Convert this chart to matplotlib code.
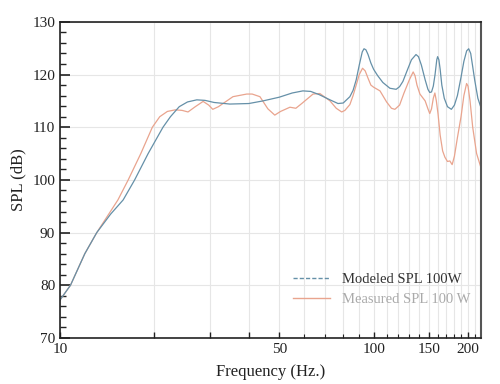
import matplotlib.pyplot as plt
from matplotlib.lines import Line2D
from matplotlib.ticker import FixedLocator, FixedFormatter, MultipleLocator, NullFormatter

# Modeled SPL (blue)
mod_freq = [10, 10.8, 12, 13.1, 14.5, 15.9, 17.3, 19.1, 21.3, 22.5, 24, 25.5, 27.3, 29, 31,
            34.8, 40, 44.4, 50, 55, 59.5, 63, 67, 72.6, 77, 80, 84, 86, 88, 90, 92, 93.2, 94.5,
            96, 98, 100, 103, 107, 112.7, 118, 121, 124, 128, 132, 136.5, 139, 142, 146, 149,
            151, 153, 155, 157, 159, 160, 161.5, 163, 165, 168, 172, 177, 181, 185, 190, 194,
            198, 201, 204, 207, 210, 215, 220]
mod_spl = [77.2, 80, 86, 90, 93.5, 96.2, 100, 105, 110, 112, 113.9, 114.8, 115.2, 115.1, 114.7,
           114.4, 114.5, 115, 115.7, 116.5, 116.9, 116.8, 116.2, 115.2, 114.5, 114.6, 115.8, 117, 119, 121.8, 124.3, 124.9, 124.7,
           123.8, 122.2, 121, 119.8, 118.5, 117.4, 117.2, 117.7, 118.7, 120.8, 122.8, 123.8, 123.4, 121.8, 119, 117.2,
           116.6, 116.7, 117.8, 120, 122.8, 123.4, 122.8, 121, 118, 115.5, 113.9, 113.4, 114.2, 116, 119.5, 122.5,
           124.5, 124.9, 124, 121.5, 119, 115.5, 113.7]

# Measured SPL (salmon)
meas_freq = [10, 10.8, 12, 13.1, 14.3, 15.3, 16.5, 18.1, 19.7, 20.8, 22, 23.3, 24.5, 25.6, 27,
             28.6, 29.8, 30.7, 32, 33.1, 35.6, 39.4, 41, 43.4, 46, 48.4, 50.5, 54.1, 56.5, 59,
             64.1, 67.4, 72.6, 76, 79.1, 81, 84, 86, 88, 90, 92.2, 94, 96, 98, 100, 104.8, 110,
             114, 116.9, 121, 125, 130, 133.7, 135.5, 137.5, 140.5, 146, 149, 151, 153, 155,
             156.8, 158.5, 160.5, 163, 166, 168.8, 172, 175, 178, 181, 185, 190, 194, 197.9,
             200, 203, 207, 213, 220]
meas_spl = [77.2, 80, 86, 90, 93.5, 96.2, 100, 105, 110, 112, 113, 113.3, 113.2, 112.9, 113.9,
            114.9, 114.2, 113.4, 113.9, 114.5, 115.8, 116.3, 116.3, 115.8, 113.5, 112.3, 113, 113.8, 113.6, 114.5,
            116.3, 116.4, 115, 113.6, 112.9, 113.2, 114.3, 116, 118, 120, 121.2, 120.7, 119.3, 118, 117.6, 116.9, 114.8,
            113.6, 113.4, 114.2, 116.5, 119, 120.5, 119.8, 118, 116.3, 115, 113.5, 112.6, 113.5, 115.5,
            116.5, 115, 112.5, 108.5, 105.5, 104.3, 103.5, 103.6, 102.9, 104.5, 108, 112, 116, 118.3,
            117.8, 115, 110, 105, 102.3]

x_major = [10, 20, 30, 40, 50, 100, 150, 200]
x_labels = ['10', '', '', '', '50', '100', '150', '200']
x_minor = [60, 70, 80, 90, 110, 120, 130, 140, 160, 170, 180, 190, 210]

plt.rcParams['font.family'] = ['Liberation Serif', 'DejaVu Serif']

fig = plt.figure(figsize=(5, 3.84), dpi=100)
ax = fig.add_axes([0.12, 0.12, 0.842, 0.823])

blue = '#6590a8'
salmon = '#e9a48e'
ax.plot(meas_freq, meas_spl, color=salmon, lw=0.9)
ax.plot(mod_freq, mod_spl, color=blue, lw=0.9)

ax.set_xscale('log')
ax.set_xlim(10, 220)
ax.set_ylim(70, 130)

ax.xaxis.set_major_locator(FixedLocator(x_major))
ax.xaxis.set_major_formatter(FixedFormatter(x_labels))
ax.xaxis.set_minor_locator(FixedLocator(x_minor))
ax.xaxis.set_minor_formatter(NullFormatter())
ax.yaxis.set_major_locator(MultipleLocator(10))
ax.yaxis.set_minor_locator(MultipleLocator(2))

ax.tick_params(which='both', direction='in', top=False, right=False, labelsize=11, colors='#222222')
ax.tick_params(axis='y', which='major', length=7, width=1.2)
ax.tick_params(axis='y', which='minor', length=4, width=1.0)
ax.tick_params(axis='x', which='major', length=4, width=1.0)
ax.tick_params(axis='x', which='minor', length=3, width=0.8)

ax.grid(True, which='major', axis='y', color='#e6e6e6', lw=0.8)
ax.grid(True, which='both', axis='x', color='#e6e6e6', lw=0.8)
ax.set_axisbelow(True)

for side in ['left', 'bottom', 'top']:
    ax.spines[side].set_color('#222222')
    ax.spines[side].set_linewidth(1.2)
ax.spines['right'].set_color('#555555')
ax.spines['right'].set_linewidth(1.5)

ax.set_xlabel('Frequency (Hz.)', fontsize=12, color='#222222', labelpad=6)
ax.set_ylabel('SPL (dB)', fontsize=12, color='#222222')

handles = [Line2D([0], [0], color=blue, lw=1.0, ls=(0, (3, 1.5))),
           Line2D([0], [0], color=salmon, lw=1.0)]
leg = ax.legend(handles, ['Modeled SPL 100W', 'Measured SPL 100 W'], loc='lower right',
                bbox_to_anchor=(1.005, 0.06), frameon=False, fontsize=10.5, handlelength=2.5,
                labelspacing=0.45, handletextpad=0.8)
leg.get_texts()[0].set_color('#333333')
leg.get_texts()[1].set_color('#aaaaaa')

fig.savefig('out.png', dpi=100)
